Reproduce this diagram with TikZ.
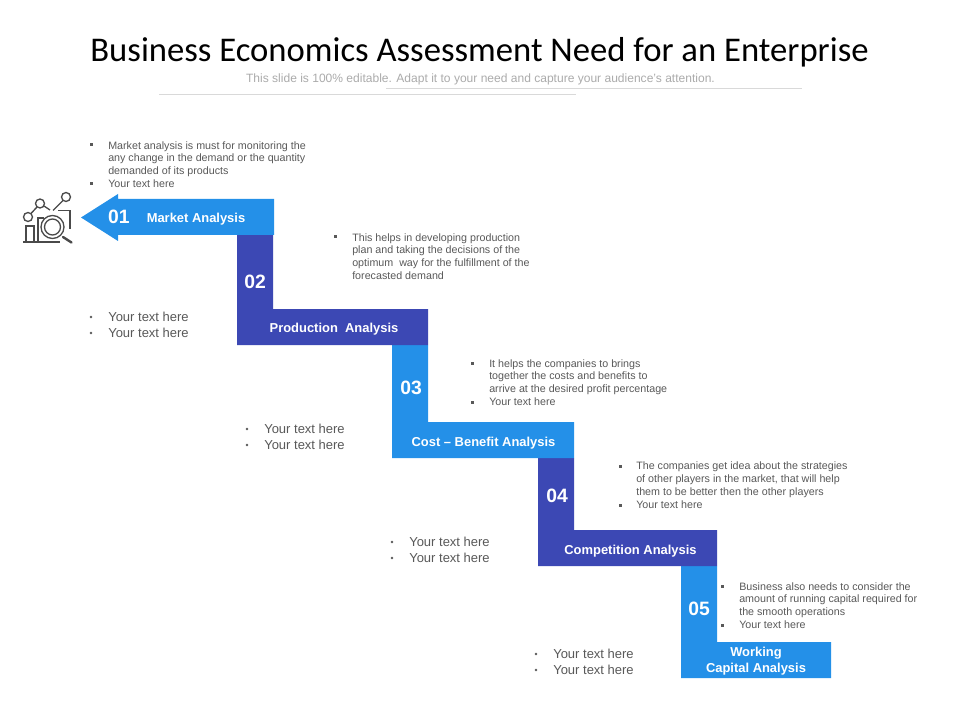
\documentclass[tikz,border=0pt]{standalone}
\usepackage{fontspec}
\setmainfont{Liberation Sans}
\newfontfamily\titlefont{Carlito}
\definecolor{lblue}{HTML}{2490E8}
\definecolor{dblue}{HTML}{3C48B4}
\definecolor{txt}{HTML}{595959}
\definecolor{rulec}{HTML}{D9D9D9}
\definecolor{sub}{HTML}{ABABAB}
\definecolor{ico}{HTML}{4A4A4A}
\tikzset{
  x=0.75pt,y=-0.75pt,
  small/.style={anchor=north west,inner sep=0pt,text=txt,font=\fontsize{8.03}{9.72}\selectfont,align=left},
  big/.style={anchor=west,inner sep=0pt,text=txt,font=\fontsize{9.75}{12}\selectfont,align=left},
  num/.style={text=white,inner sep=0pt,font=\bfseries\fontsize{14.5}{16}\selectfont},
  lab/.style={text=white,inner sep=0pt,align=center,font=\bfseries\fontsize{9.7}{12}\selectfont},
  ic/.style={draw=ico,line width=1pt,fill=none}
}
\newcommand{\sqb}[2]{\fill[txt] (#1-1.5,#2-1.5) rectangle (#1+1.5,#2+1.5);}
\begin{document}
\begin{tikzpicture}
\useasboundingbox (0,0) rectangle (960,720);
\fill[white] (0,0) rectangle (960,720);
% title
\node[inner sep=0pt,text=black,font=\titlefont\fontsize{26}{30}\selectfont] (title) at (479.5,52) {Business Economics Assessment Need for an Enterprise};
\node[inner sep=0pt,text=sub,font=\fontsize{9.03}{11}\selectfont] (subt) at (480.5,79) {This slide is 100\% editable. Adapt it to your need and capture your audience's attention.};
\coordinate (r1a) at (386,88.5); \coordinate (r1b) at (802,88.5);
\coordinate (r2a) at (159,94.5); \coordinate (r2b) at (576,94.5);
\draw[rulec,line width=0.6pt] (r1a) -- (r1b);
\draw[rulec,line width=0.6pt] (r2a) -- (r2b);
% staircase
\fill[lblue] (681,566) -- (717,566) -- (717,642) -- (831,642) -- (831,678) -- (681,678) -- cycle;
\fill[dblue] (538,458) -- (574,458) -- (574,530) -- (717,530) -- (717,566) -- (538,566) -- cycle;
\fill[lblue] (392,345) -- (428,345) -- (428,422) -- (574,422) -- (574,458) -- (392,458) -- cycle;
\fill[dblue] (237,235) -- (273,235) -- (273,309) -- (428,309) -- (428,345) -- (237,345) -- cycle;
\fill[lblue] (274,199) -- (118,199) -- (118,194) -- (81,217.5) -- (118,241) -- (118,235) -- (274,235) -- cycle;
% numbers and labels
\node[num] (n1) at (119,216.5) {01};
\node[lab] (l1) at (196,219) {Market Analysis};
\node[num] (n2) at (255,282) {02};
\node[lab] (l2) at (334,329) {Production~~Analysis};
\node[num] (n3) at (411,388) {03};
\node[lab] (l3) at (483.5,443) {Cost -- Benefit Analysis};
\node[num] (n4) at (557,496) {04};
\node[lab] (l4) at (630.5,551) {Competition Analysis};
\node[num] (n5) at (699,609) {05};
\node[lab] (l5) at (756,661) {Working\\Capital Analysis};
% texts
\node[small] (t1) at (108,141) {Market analysis is must for monitoring the\\any change in the demand or the quantity\\demanded of its products\\Your text here};
\sqb{91}{145} \sqb{91}{184}
\node[small] (t2) at (352,233) {This helps in developing production\\plan and taking the decisions of the\\optimum~ way for the fulfillment of the\\forecasted demand};
\sqb{335}{237}
\node[small] (t3) at (489,359) {It helps the companies to brings\\together the costs and benefits to\\arrive at the desired profit percentage\\Your text here};
\sqb{472}{363} \sqb{472}{402}
\node[small] (t4) at (636,461.5) {The companies get idea about the strategies\\of other players in the market, that will help\\them to be better then the other players\\Your text here};
\sqb{620}{466} \sqb{620}{505}
\node[small] (t5) at (739,582) {Business also needs to consider the\\amount of running capital required for\\the smooth operations\\Your text here};
\sqb{722}{586} \sqb{722}{625}
% big bullets
\foreach \xb/\xt/\ya/\yb in {91/108/317/333, 247/264/429/445, 392/409/542/558, 536/553/654/670}{
  \node[big] at (\xt,\ya) {Your text here};
  \node[big] at (\xt,\yb) {Your text here};
  \fill[txt] (\xb,\ya) circle (1.3);
  \fill[txt] (\xb,\yb) circle (1.3);
}
% icon
\draw[ic] (23,242) -- (60,242);
\draw[ic] (26,242) -- (26,226) -- (34,226) -- (34,242);
\draw[ic] (38,242) -- (38,218) -- (44,218);
\draw[ic] (58,210.5) -- (70,210.5) -- (70,229);
\draw[ic] (28,217) circle (4.5);
\draw[ic] (40,203.5) circle (4.5);
\draw[ic] (66,197) circle (4.5);
\draw[ic] (31,213.5) -- (37,207);
\draw[ic] (44,206) -- (50,210);
\draw[ic] (53,210.5) -- (63,200.5);
\draw[ic] (52.5,227) circle (11.5);
\draw[ic] (52.5,227) circle (8);
\draw[ic,line width=1.8pt,line cap=round] (63,237) -- (71.5,242.5);
\end{tikzpicture}
\end{document}
